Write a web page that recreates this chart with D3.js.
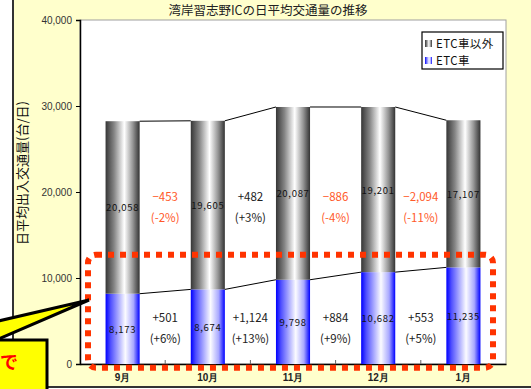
<!DOCTYPE html>
<html>
<head>
<meta charset="utf-8">
<script src="https://cdn.jsdelivr.net/npm/d3@7"></script>
<style>
  body { margin: 0; background: #fff; }
  svg { display: block; font-family: "Noto Sans CJK JP", "Noto Sans", sans-serif; }
</style>
</head>
<body>
<div id="chart"></div>
<script>
var months = ["9月", "10月", "11月", "12月", "1月"],
    etcVals = [8173, 8674, 9798, 10682, 11235],
    otherVals = [20058, 19605, 20087, 19201, 17107],
    etcPct = [6, 13, 9, 5],        // as printed on the chart
    otherPct = [-2, 3, -4, -11],
    yTicks = [0, 10000, 20000, 30000, 40000];

var W = 531, H = 389;
var svg = d3.select("#chart").append("svg").attr("width", W).attr("height", H);
var fmt = d3.format(",");

// frame
svg.append("rect").attr("x", 14).attr("y", 0).attr("width", W - 14).attr("height", 386).style("fill", "#ffffcc");
svg.append("line").attr("x1", 13).attr("x2", 13).attr("y1", 0).attr("y2", 388).style("stroke", "#333").style("stroke-width", 2);
svg.append("line").attr("x1", 13).attr("x2", W).attr("y1", 387).attr("y2", 387).style("stroke", "#333").style("stroke-width", 2);

var plot = {left: 80, right: 506, top: 20, bottom: 364};

var x = d3.scaleBand().domain(months).range([plot.left, plot.right]).paddingInner(0.6).paddingOuter(0.3);
var y = d3.scaleLinear().domain([0, 40000]).range([plot.bottom, plot.top]);

// gradients
var defs = svg.append("defs");
var gGray = defs.append("linearGradient").attr("id", "gray");
[[0, "#363636"], [0.25, "#858585"], [0.55, "#ffffff"], [0.8, "#959595"], [1, "#333333"]].forEach(s => {
  gGray.append("stop").attr("offset", s[0]).attr("stop-color", s[1]);
});
var gBlue = defs.append("linearGradient").attr("id", "blue");
[[0, "#0000ff"], [0.15, "#5050ff"], [0.58, "#fbfbff"], [0.82, "#a8a8ff"], [1, "#0000ff"]].forEach(s => {
  gBlue.append("stop").attr("offset", s[0]).attr("stop-color", s[1]);
});

// plot area
svg.append("rect").attr("x", plot.left).attr("y", plot.top)
  .attr("width", plot.right - plot.left).attr("height", plot.bottom - plot.top)
  .style("fill", "#fff").style("stroke", "#a0a0a0").style("stroke-width", 1);

// title
svg.append("text").attr("x", 268).attr("y", 15).attr("text-anchor", "middle")
  .style("font-size", "12.5px").style("fill", "#222").text("湾岸習志野ICの日平均交通量の推移");

// y axis
var yAxis = svg.append("g").attr("transform", "translate(" + plot.left + ",0)")
  .call(d3.axisLeft(y).tickValues(yTicks).tickFormat(fmt).tickSize(4).tickPadding(4));
yAxis.select(".domain").style("stroke", "#000").style("stroke-width", 1.5);
yAxis.selectAll("text").style("font-size", "10px").style("fill", "#333").style("font-family", "Liberation Sans, Arial, sans-serif");

svg.append("text").attr("transform", "translate(27,173) rotate(-90)").attr("text-anchor", "middle")
  .style("font-size", "13px").style("fill", "#111").text("日平均出入交通量(台/日)");

// x axis
var xAxis = svg.append("g").attr("transform", "translate(0," + plot.bottom + ")")
  .call(d3.axisBottom(x).tickSize(0).tickPadding(10));
xAxis.select(".domain").style("stroke", "#000").style("stroke-width", 1.5);
xAxis.selectAll("text").style("font-size", "10px").style("fill", "#222").style("font-weight", "bold");
// inner ticks at category boundaries
svg.selectAll(".bt").data(months.slice(1)).enter().append("line")
  .attr("x1", d => x(d) - x.step() * x.paddingInner() / 2).attr("x2", d => x(d) - x.step() * x.paddingInner() / 2)
  .attr("y1", plot.bottom).attr("y2", plot.bottom - 4).style("stroke", "#666");

// stacked bars
var bars = svg.append("g");
bars.selectAll(".etc").data(months).enter().append("rect")
  .attr("x", d => x(d)).attr("width", x.bandwidth())
  .attr("y", (d, i) => y(etcVals[i])).attr("height", (d, i) => y(0) - y(etcVals[i]))
  .style("fill", "url(#blue)");
bars.selectAll(".oth").data(months).enter().append("rect")
  .attr("x", d => x(d)).attr("width", x.bandwidth())
  .attr("y", (d, i) => y(etcVals[i] + otherVals[i])).attr("height", (d, i) => y(etcVals[i]) - y(etcVals[i] + otherVals[i]))
  .style("fill", "url(#gray)");

// series lines
var totals = etcVals.map((v, i) => v + otherVals[i]);
[etcVals, totals].forEach(arr => {
  svg.selectAll(null).data(months.slice(0, -1)).enter().append("line")
    .attr("x1", d => x(d) + x.bandwidth()).attr("y1", (d, i) => y(arr[i]))
    .attr("x2", (d, i) => x(months[i + 1])).attr("y2", (d, i) => y(arr[i + 1]))
    .style("stroke", "#000").style("stroke-width", 1);
});

// values inside bars
svg.selectAll(".ve").data(months).enter().append("text")
  .attr("x", d => x(d) + x.bandwidth() / 2).attr("y", (d, i) => y(etcVals[i] / 2) + 4)
  .attr("text-anchor", "middle").style("font-size", "9.5px").style("letter-spacing", "0.7px").style("fill", "#111")
  .text((d, i) => fmt(etcVals[i]));
svg.selectAll(".vo").data(months).enter().append("text")
  .attr("x", d => x(d) + x.bandwidth() / 2).attr("y", (d, i) => y(etcVals[i] + otherVals[i] / 2) + 4)
  .attr("text-anchor", "middle").style("font-size", "9.5px").style("letter-spacing", "0.7px").style("fill", "#111")
  .text((d, i) => fmt(otherVals[i]));

// month-on-month differences
function diffLabels(arr, pct, yTop) {
  var diffs = arr.slice(1).map((v, i) => ({d: v - arr[i], p: pct[i], i: i}));
  var g = svg.selectAll(null).data(diffs).enter().append("g")
    .attr("transform", d => "translate(" + (x(months[d.i]) + x.bandwidth() / 2 + x.step() / 2) + "," + y(yTop) + ")")
    .style("fill", d => d.d < 0 ? "#ff5a2a" : "#222")
    .style("font-size", "11.5px").attr("text-anchor", "middle");
  g.append("text").attr("y", 4).text(d => (d.d > 0 ? "+" : "") + fmt(d.d));
  g.append("text").attr("y", 25).text(d => "(" + (d.p > 0 ? "+" : "") + d.p + "%)");
}
diffLabels(otherVals, otherPct, 19400);
diffLabels(etcVals, etcPct, 5400);

// legend
var lg = svg.append("g").attr("transform", "translate(422,32)");
lg.append("rect").attr("width", 81).attr("height", 37).style("fill", "#fff").style("stroke", "#000").style("stroke-width", 1.2);
[["ETC車以外", "url(#gray)"], ["ETC車", "url(#blue)"]].forEach((it, i) => {
  lg.append("rect").attr("x", 3).attr("y", 8 + i * 17).attr("width", 7).attr("height", 7).style("fill", it[1]);
  lg.append("text").attr("x", 14).attr("y", 16 + i * 17).style("font-size", "11.5px").style("letter-spacing", "0.4px")
    .style("fill", "#111").text(it[0]);
});

// highlight frame around ETC part
svg.append("rect").attr("x", plot.left + 8).attr("y", y(12700))
  .attr("width", 405).attr("height", 113).attr("rx", 8)
  .style("fill", "none").style("stroke", "#ff3300").style("stroke-width", 6).style("stroke-dasharray", "6 6");

// callout
svg.append("path").attr("d", "M-6,322 L89,300 L-6,341 Z")
  .style("fill", "#ffff00").style("stroke", "#000").style("stroke-width", 3).style("stroke-linejoin", "miter");
svg.append("rect").attr("x", -4).attr("y", 340).attr("width", 51).attr("height", 60)
  .style("fill", "#ffff00").style("stroke", "#000").style("stroke-width", 3);
svg.append("text").attr("x", 0).attr("y", 369).style("font-size", "18px").style("font-weight", "bold")
  .style("fill", "#ff0000").text("で");
</script>
</body>
</html>
